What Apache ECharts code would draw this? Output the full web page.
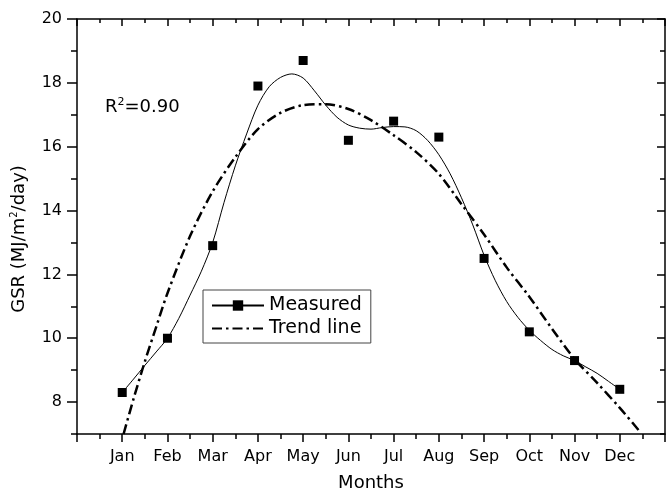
<!DOCTYPE html>
<html>
<head>
<meta charset="utf-8">
<script src="https://cdn.jsdelivr.net/npm/echarts@6/dist/echarts.min.js"></script>
<style>html,body{margin:0;padding:0;background:#fff}#c{width:666px;height:491px}</style>
</head>
<body>
<div id="c"></div>
<script>
const months = ['Jan','Feb','Mar','Apr','May','Jun','Jul','Aug','Sep','Oct','Nov','Dec'];
const measured = [8.3, 10.0, 12.9, 17.9, 18.7, 16.2, 16.8, 16.3, 12.5, 10.2, 9.3, 8.4];
const splineX = [1, 1.25, 1.5, 1.75, 2, 2.25, 2.5, 2.75, 3, 3.25, 3.5, 3.75, 4, 4.25, 4.5, 4.75, 5, 5.25, 5.5, 5.75, 6, 6.25, 6.5, 6.75, 7, 7.25, 7.5, 7.75, 8, 8.25, 8.5, 8.75, 9, 9.25, 9.5, 9.75, 10, 10.25, 10.5, 10.75, 11, 11.25, 11.5, 11.75, 12];
const splineY = [8.3, 8.72, 9.15, 9.57, 10.0, 10.62, 11.35, 12.1, 13.0, 14.25, 15.4, 16.4, 17.3, 17.88, 18.17, 18.28, 18.15, 17.75, 17.3, 16.92, 16.68, 16.58, 16.55, 16.6, 16.63, 16.62, 16.5, 16.2, 15.75, 15.15, 14.4, 13.55, 12.6, 11.8, 11.15, 10.65, 10.25, 9.93, 9.65, 9.45, 9.3, 9.1, 8.9, 8.65, 8.4];
const trendX = [1.03, 1.25, 1.5, 1.75, 2, 2.5, 3, 3.5, 4, 4.5, 5, 5.5, 6, 6.5, 7, 7.5, 8, 8.5, 9, 9.5, 10, 10.5, 11, 11.5, 12, 12.43];
const trendY = [7.0, 8.1, 9.27, 10.35, 11.41, 13.2, 14.6, 15.67, 16.55, 17.06, 17.3, 17.33, 17.18, 16.83, 16.36, 15.83, 15.15, 14.2, 13.25, 12.22, 11.3, 10.3, 9.35, 8.6, 7.82, 7.1];
const yTicks = [8, 10, 12, 14, 16, 18, 20];
const yMinorTicks = [7, 9, 11, 13, 15, 17, 19];

const FONT = 'DejaVu Sans';
const K = '#000';
const tickLine = {color: K, width: 1.5};

function yAx(position, ticks, len, inside, showLine, showLabel) {
  return {
    type: 'value', position: position, min: 7, max: 20,
    axisLine: {show: showLine, lineStyle: tickLine},
    axisTick: {show: true, inside: inside, length: len, customValues: ticks, lineStyle: tickLine},
    axisLabel: {show: showLabel, customValues: ticks, margin: 15, color: K, fontFamily: FONT, fontSize: 16},
    splitLine: {show: false}
  };
}

const chart = echarts.init(document.getElementById('c'), null, {renderer: 'canvas'});
chart.setOption({
  animation: false,
  backgroundColor: '#fff',
  grid: {left: 77, top: 19, right: 1, bottom: 57, containLabel: false, outerBoundsMode: 'none'},
  xAxis: [
    {
      type: 'value', position: 'bottom', min: 0, max: 13, interval: 1,
      axisLine: {lineStyle: tickLine},
      axisTick: {length: 8, lineStyle: tickLine},
      minorTick: {show: true, splitNumber: 2, length: 5, lineStyle: tickLine},
      splitLine: {show: false},
      axisLabel: {margin: 15, color: K, fontFamily: FONT, fontSize: 16,
        formatter: function (v) { return months[v - 1] || ''; }},
      name: 'Months', nameLocation: 'middle', nameGap: 40,
      nameTextStyle: {color: K, fontFamily: FONT, fontSize: 18}
    },
    {
      type: 'value', position: 'top', min: 0, max: 13, interval: 1,
      axisLine: {lineStyle: tickLine},
      axisTick: {inside: true, length: 7, lineStyle: tickLine},
      minorTick: {show: true, splitNumber: 2, length: 4, lineStyle: tickLine},
      splitLine: {show: false},
      axisLabel: {show: false}
    }
  ],
  yAxis: [
    yAx('left', yTicks, 10, false, true, true),
    yAx('left', yMinorTicks, 6, false, false, false),
    yAx('right', yTicks, 8, true, true, false),
    yAx('right', yMinorTicks, 5, true, false, false)
  ],
  legend: {
    orient: 'vertical', left: 203, top: 290,
    padding: [6, 9, 5, 8], itemGap: 4, itemWidth: 52, itemHeight: 13,
    borderColor: '#444', borderWidth: 1, backgroundColor: '#fff', borderRadius: 0,
    textStyle: {fontFamily: FONT, fontSize: 19, color: K},
    data: [{name: 'Measured'}, {name: 'Trend line', itemStyle: {color: 'rgba(0,0,0,0)', borderWidth: 0}}]
  },
  graphic: [
    {
      type: 'text', left: 105, top: 97,
      style: {text: 'R{s|2}=0.90', fill: K, fontFamily: FONT, fontSize: 18, lineHeight: 21,
        rich: {s: {fontSize: 11, verticalAlign: 'top', lineHeight: 11, fontFamily: FONT, fill: K}}}
    },
    {
      type: 'text', x: 19, y: 239, rotation: Math.PI / 2,
      style: {text: 'GSR (MJ/m{s|2}/day)', fill: K, fontFamily: FONT, fontSize: 18, lineHeight: 20,
        align: 'center', verticalAlign: 'middle',
        rich: {s: {fontSize: 10, verticalAlign: 'top', lineHeight: 10, fontFamily: FONT, fill: K}}}
    }
  ],
  series: [
    {
      name: 'Measured', type: 'line', xAxisIndex: 0, yAxisIndex: 0,
      data: splineX.map(function (x, i) { return [x, splineY[i]]; }),
      smooth: 0.3, symbol: 'rect', showSymbol: false,
      lineStyle: {color: K, width: 1}, itemStyle: {color: K}, z: 3
    },
    {
      name: 'Trend line', type: 'line', xAxisIndex: 0, yAxisIndex: 0,
      data: trendX.map(function (x, i) { return [x, trendY[i]]; }),
      smooth: 0.3, symbol: 'none', showSymbol: false,
      lineStyle: {color: K, width: 2.5, type: [10, 4, 2.5, 4]}, itemStyle: {color: K}, z: 2
    },
    {
      name: 'points', type: 'scatter', xAxisIndex: 0, yAxisIndex: 0,
      data: measured.map(function (v, i) { return [i + 1, v]; }),
      symbol: 'rect', symbolSize: 9, itemStyle: {color: K, opacity: 1}, z: 4
    }
  ]
});
</script>
</body>
</html>
